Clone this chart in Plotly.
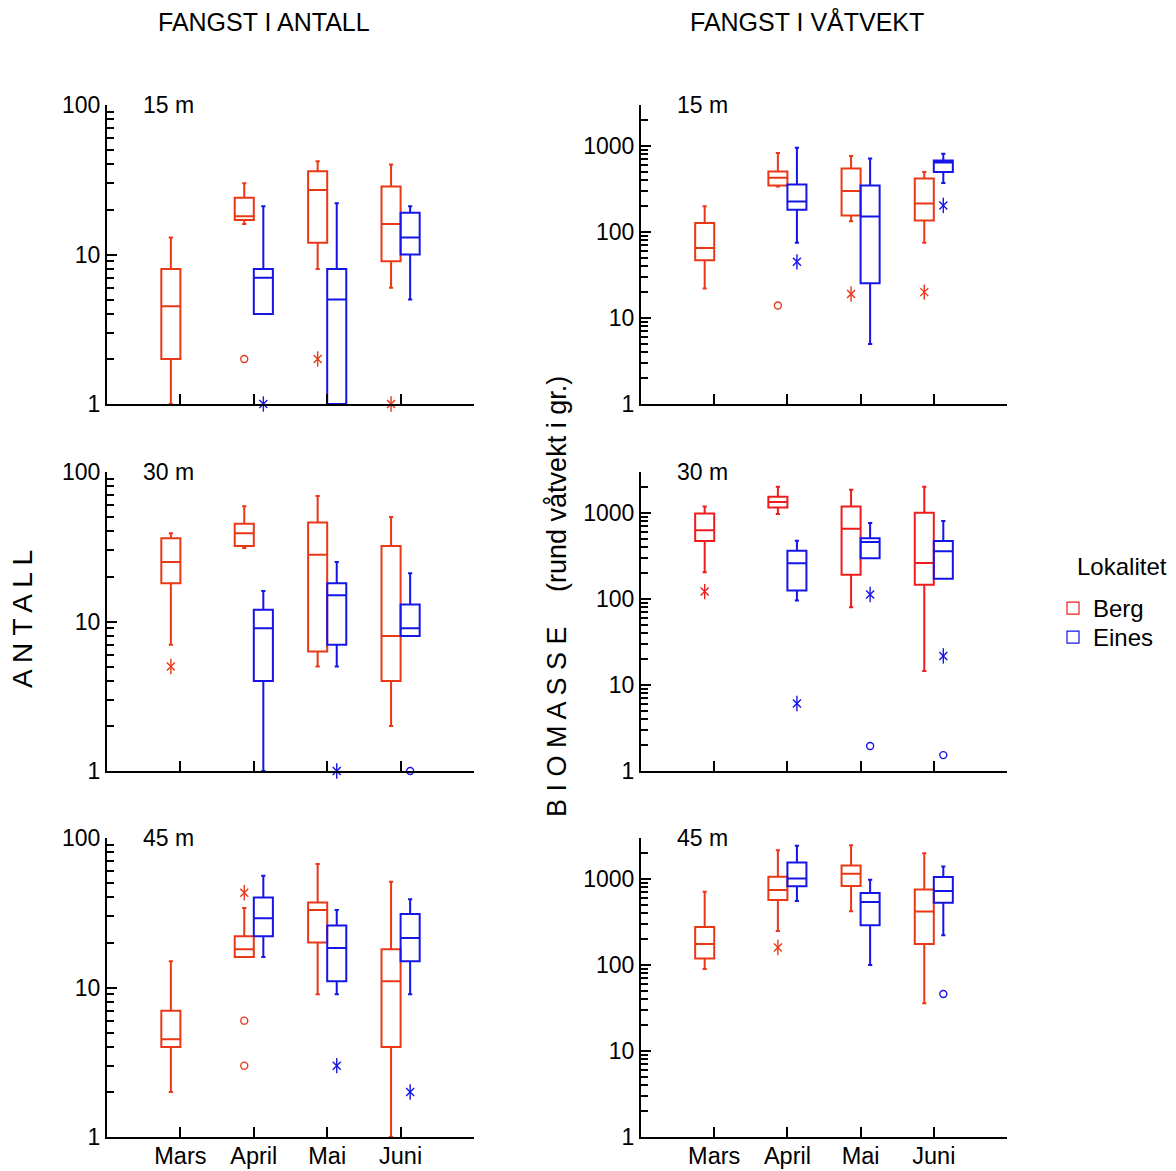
import math
import plotly.graph_objects as go

# ---------------------------------------------------------------------------
# Data: box statistics per month, each as [lower whisker, Q1, median, Q3, upper whisker]
# None = no sampling that month
# ---------------------------------------------------------------------------
months = ["Mars", "April", "Mai", "Juni"]
depths = ["15 m", "30 m", "45 m"]
localities = ["Berg", "Eines"]

# Catch in numbers (ANTALL)
antall_15_berg = [[1, 2, 4.5, 8, 13], [16, 17, 18, 24, 30], [8, 12, 27, 36, 42], [6, 9, 16, 28.5, 40]]
antall_15_eines = [None, [4, 4, 7, 8, 21], [1, 1, 5, 8, 22], [5, 10, 13, 19, 21]]
antall_30_berg = [[7, 18, 25, 36, 39], [31, 32, 39, 45, 59], [5, 6.3, 28, 46, 69], [2, 4, 8, 32, 50]]
antall_30_eines = [None, [1, 4, 9, 12, 16], [5, 7, 15, 18, 25], [8, 8, 9, 13, 21]]
antall_45_berg = [[2, 4, 4.5, 7, 15], [16, 16, 18, 22, 34], [9, 20, 33, 37, 67], [1, 4, 11, 18, 51]]
antall_45_eines = [None, [16, 22, 29, 40, 56], [9, 11, 18.4, 26, 33], [9, 15, 21.4, 31, 39]]

# Catch in wet weight, grams (BIOMASSE)
biomasse_15_berg = [[22, 47, 65, 127, 200], [339, 348, 428, 507, 828], [133, 156, 299, 549, 764], [75, 136, 215, 420, 498]]
biomasse_15_eines = [None, [75, 181, 227, 358, 955], [5, 25.4, 152, 348, 718], [371, 498, 645, 680, 813]]
biomasse_30_berg = [[205, 473, 629, 990, 1194], [973, 1163, 1341, 1545, 2018], [80, 192, 658, 1194, 1862], [14.6, 147, 263, 1008, 2018]]
biomasse_30_eines = [None, [96, 126, 260, 365, 477], [298, 298, 460, 508, 765], [172, 172, 359, 473, 807]]
biomasse_45_berg = [[90, 119, 176, 277, 713], [249, 570, 745, 1063, 2168], [421, 829, 1152, 1439, 2477], [36, 175, 418, 758, 2000]]
biomasse_45_eines = [None, [555, 822, 1017, 1560, 2433], [100, 290, 541, 688, 982], [222, 531, 725, 1054, 1400]]

# Outside values: (month, value, kind) with kind "o" = outlier, "*" = extreme
antall_15_berg_out = [("April", 2, "o"), ("Mai", 2, "*"), ("Juni", 1, "*")]
antall_15_eines_out = [("April", 1, "*")]
antall_30_berg_out = [("Mars", 5, "*")]
antall_30_eines_out = [("Mai", 1, "*"), ("Juni", 1, "o")]
antall_45_berg_out = [("April", 43, "*"), ("April", 6, "o"), ("April", 3, "o")]
antall_45_eines_out = [("Mai", 3, "*"), ("Juni", 2, "*")]
biomasse_15_berg_out = [("April", 14, "o"), ("Mai", 19, "*"), ("Juni", 20, "*")]
biomasse_15_eines_out = [("April", 45, "*"), ("Juni", 204, "*")]
biomasse_30_berg_out = [("Mars", 122, "*")]
biomasse_30_eines_out = [("April", 6.1, "*"), ("Mai", 113, "*"), ("Mai", 1.95, "o"),
                         ("Juni", 21.8, "*"), ("Juni", 1.53, "o")]
biomasse_45_berg_out = [("April", 160, "*")]
biomasse_45_eines_out = [("Juni", 46, "o")]

antall_ticks = [1, 10, 100]
biomasse_ticks = [1, 10, 100, 1000]

# ---------------------------------------------------------------------------
# Styling
# ---------------------------------------------------------------------------
W, H = 1176, 1171
FONT = "Liberation Sans, Arial, sans-serif"
FS = 23
berg_orange = "#ea3817"
berg_red = "#ee1c1c"
eines_blue = "#1515e6"
offsets = {"Berg": -0.13, "Eines": 0.13}
BOX_W = 0.26

col_px = [(107, 474), (641, 1007)]
row_px = [(105, 404), (472, 771), (838, 1137)]

panels = [
    # (row, col, stats by locality, outliers by locality, top of axis, tick values, Berg colour)
    (0, 0, {"Berg": antall_15_berg, "Eines": antall_15_eines},
     {"Berg": antall_15_berg_out, "Eines": antall_15_eines_out}, 100, antall_ticks, berg_orange),
    (0, 1, {"Berg": biomasse_15_berg, "Eines": biomasse_15_eines},
     {"Berg": biomasse_15_berg_out, "Eines": biomasse_15_eines_out}, 3000, biomasse_ticks, berg_orange),
    (1, 0, {"Berg": antall_30_berg, "Eines": antall_30_eines},
     {"Berg": antall_30_berg_out, "Eines": antall_30_eines_out}, 100, antall_ticks, berg_orange),
    (1, 1, {"Berg": biomasse_30_berg, "Eines": biomasse_30_eines},
     {"Berg": biomasse_30_berg_out, "Eines": biomasse_30_eines_out}, 3000, biomasse_ticks, berg_red),
    (2, 0, {"Berg": antall_45_berg, "Eines": antall_45_eines},
     {"Berg": antall_45_berg_out, "Eines": antall_45_eines_out}, 100, antall_ticks, berg_orange),
    (2, 1, {"Berg": biomasse_45_berg, "Eines": biomasse_45_eines},
     {"Berg": biomasse_45_berg_out, "Eines": biomasse_45_eines_out}, 3000, biomasse_ticks, berg_orange),
]

fig = go.Figure()
layout_axes = {}
annotations = []

for i, (r, c, stats, outs, ytop, yticks, berg_col) in enumerate(panels):
    n = i + 1
    xa = "x" if n == 1 else f"x{n}"
    ya = "y" if n == 1 else f"y{n}"
    colors = {"Berg": berg_col, "Eines": eines_blue}

    for loc in localities:
        pos, lo, q1, md, q3, hi = [], [], [], [], [], []
        for m, s in enumerate(stats[loc]):
            if s is None:
                continue
            pos.append(m + 1 + offsets[loc])
            lo.append(s[0]); q1.append(s[1]); md.append(s[2]); q3.append(s[3]); hi.append(s[4])
        fig.add_trace(go.Box(
            x=pos, lowerfence=lo, q1=q1, median=md, q3=q3, upperfence=hi,
            width=BOX_W, whiskerwidth=0.22, boxpoints=False,
            line=dict(color=colors[loc], width=2), fillcolor="rgba(0,0,0,0)",
            name=loc, showlegend=False,
            xaxis=xa, yaxis=ya, hoverinfo="skip",
        ))

        # outside values
        circ_x, circ_y, star_x, star_y = [], [], [], []
        for mon, val, kind in outs[loc]:
            xv = months.index(mon) + 1 + offsets[loc]
            if kind == "o":
                circ_x.append(xv); circ_y.append(val)
            else:
                star_x.append(xv); star_y.append(val)
        mk = dict(color=colors[loc], line=dict(color=colors[loc], width=1.4))
        if circ_x:
            fig.add_trace(go.Scatter(
                x=circ_x, y=circ_y, mode="markers", xaxis=xa, yaxis=ya,
                marker=dict(symbol="circle-open", size=7, **mk),
                showlegend=False, cliponaxis=False, hoverinfo="skip"))
        if star_x:
            for sym, sz in (("x-thin-open", 8), ("line-ns-open", 11)):
                fig.add_trace(go.Scatter(
                    x=star_x, y=star_y, mode="markers", xaxis=xa, yaxis=ya,
                    marker=dict(symbol=sym, size=sz, **mk),
                    showlegend=False, cliponaxis=False, hoverinfo="skip"))

    x0, x1 = col_px[c]
    y0, y1 = row_px[r]
    bottom = r == 2
    layout_axes["xaxis" if n == 1 else f"xaxis{n}"] = dict(
        domain=[x0 / W, x1 / W], anchor=ya, range=[0, 5], automargin=False,
        tickmode="array", tickvals=[1, 2, 3, 4, 5], ticktext=months + [""],
        showticklabels=bottom, ticks="inside", ticklen=10, tickwidth=2, tickcolor="black",
        ticklabelstandoff=-3,
        showline=True, linewidth=2, linecolor="black", showgrid=False, zeroline=False,
        tickfont=dict(size=23.5, color="black", family=FONT),
    )
    minor_vals = []
    for d in range(int(round(math.log10(ytop))) + 1):
        for k in range(2, 10):
            v = k * 10 ** d
            if v <= ytop * 1.0001:
                minor_vals.append(v)
    layout_axes["yaxis" if n == 1 else f"yaxis{n}"] = dict(
        domain=[1 - y1 / H, 1 - y0 / H], anchor=xa, type="log", automargin=False,
        range=[0, math.log10(ytop)],
        tickmode="array", tickvals=yticks, ticktext=[str(t) for t in yticks],
        ticks="inside", ticklen=10, tickwidth=2, tickcolor="black",
        minor=dict(tickmode="array", tickvals=minor_vals, ticks="inside",
                   ticklen=7, tickwidth=1.5, tickcolor="black", showgrid=False),
        showline=True, linewidth=2, linecolor="black", showgrid=False, zeroline=False,
        tickfont=dict(size=FS, color="black", family=FONT),
    )
    # depth label inside each panel
    annotations.append(dict(
        text=depths[r], x=(x0 + 34) / W, y=1 - y0 / H, xref="paper", yref="paper",
        xanchor="left", yanchor="middle", showarrow=False,
        font=dict(size=FS, color="black", family=FONT)))

# Legend entries (one per locality, drawn with the box icon, each in its own legend)
for loc, col, leg in (("Berg", berg_red, "legend"), ("Eines", eines_blue, "legend2")):
    fig.add_trace(go.Box(
        x=[None], q1=[None], median=[None], q3=[None], lowerfence=[None], upperfence=[None],
        name=loc, legend=leg, showlegend=True, boxpoints=False,
        line=dict(color=col, width=1.2), fillcolor="rgba(0,0,0,0)", hoverinfo="skip",
    ))

# column headings
annotations.append(dict(text="FANGST I ANTALL", x=264 / W, y=1 - 22 / H, xref="paper", yref="paper",
                        xanchor="center", yanchor="middle", showarrow=False,
                        font=dict(size=25, color="black", family=FONT)))
annotations.append(dict(text="FANGST I VÅTVEKT", x=807 / W, y=1 - 22 / H, xref="paper", yref="paper",
                        xanchor="center", yanchor="middle", showarrow=False,
                        font=dict(size=25, color="black", family=FONT)))
# y-axis titles
annotations.append(dict(text="A N T A L L", x=22 / W, y=1 - 619 / H,
                        xref="paper", yref="paper", xanchor="center", yanchor="middle",
                        textangle=-90, showarrow=False,
                        font=dict(size=28, color="black", family=FONT)))
annotations.append(dict(text="B I O M A S S E\u2003 (rund våtvekt i gr.)",
                        x=557 / W, y=1 - 597 / H,
                        xref="paper", yref="paper", xanchor="center", yanchor="middle",
                        textangle=-90, showarrow=False,
                        font=dict(size=27, color="black", family=FONT)))
# legend heading
annotations.append(dict(text="Lokalitet", x=1075 / W, y=1 - 566 / H, xref="paper", yref="paper",
                        xanchor="left", yanchor="middle", showarrow=False,
                        font=dict(size=24, color="black", family=FONT)))

legend_style = dict(xanchor="left", yanchor="top", font=dict(size=24, family=FONT, color="black"),
                    bgcolor="rgba(0,0,0,0)", itemwidth=30)

fig.update_layout(
    width=W, height=H, autosize=False,
    margin=dict(l=0, r=0, t=0, b=0),
    paper_bgcolor="white", plot_bgcolor="white",
    font=dict(family=FONT, size=FS, color="black"),
    showlegend=True,
    legend=dict(x=1053 / W, y=1 - 586 / H, **legend_style),
    legend2=dict(x=1053 / W, y=1 - 615 / H, **legend_style),
    annotations=annotations,
    **layout_axes,
)

fig.write_html("out.html")
